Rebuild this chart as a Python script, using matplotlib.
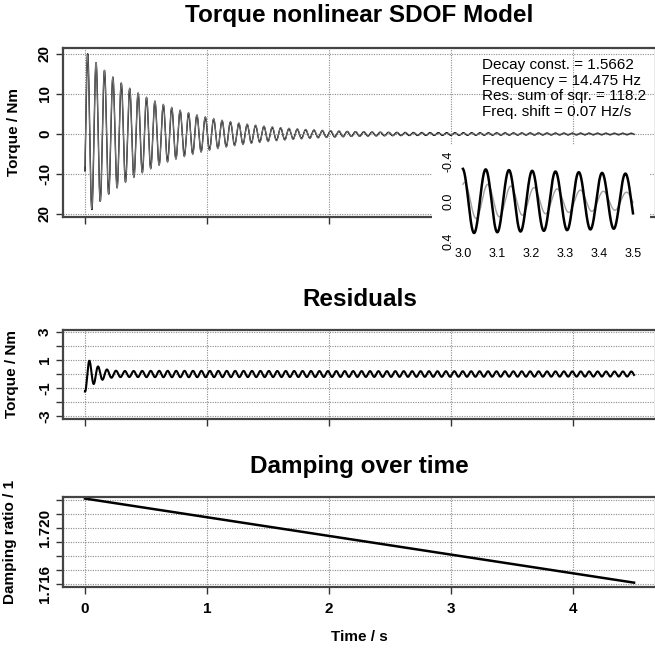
import numpy as np
import matplotlib.pyplot as plt

plt.rcParams['font.family'] = ['Liberation Sans', 'DejaVu Sans']

# model parameters as printed on the chart
decay_const = 1.5662      # 1/s
freq_hz = 14.475          # Hz
freq_shift = 0.07         # Hz/s
res_sum_sqr = 118.2
amp0 = 20.5               # first peak, Nm
phase0 = -0.4             # start value ~ -8 Nm

# residual: start transient and slowly fading ripple
res_start = 1.35
res_tau = 0.13
res_ripple0 = 0.24
res_ripple_end = 0.18
res_phase = 2.72

# damping ratio, start and end of the straight line
damp_t = [0.0, 4.5]
damp_val = [1.7221, 1.7161]

t_end = 4.5
fs = 2000

t = np.arange(0, t_end, 1.0 / fs)
model = amp0 * np.exp(-decay_const * t) * np.sin(
    2 * np.pi * (freq_hz * t + 0.5 * freq_shift * t ** 2) + phase0)
ripple = res_ripple0 * (res_ripple_end / res_ripple0) ** (t / t_end)
resid = ripple * np.sin(2 * np.pi * freq_hz * t + res_phase) \
    - res_start * np.exp(-t / res_tau) * np.cos(2 * np.pi * freq_hz * t)
measured = model + resid

W, H = 655, 648
fig = plt.figure(figsize=(W / 100, H / 100), dpi=100)


def rect(x0, x1, y0, y1):
    return [x0 / W, 1 - y1 / H, (x1 - x0) / W, (y1 - y0) / H]


grid_kw = dict(color='#8c8c8c', linestyle=(0, (1, 1.2)), linewidth=0.8)
xt = [0, 1, 2, 3, 4]
xlim = (-0.18, 4.68)


def style(ax, yticks, ylabels):
    ax.set_xlim(*xlim)
    ax.set_xticks(xt)
    ax.set_yticks(yticks)
    ax.set_yticklabels(ylabels, rotation=90, va='center', fontsize=11,
                       fontweight='bold')
    ax.tick_params(direction='out', length=5, width=1, color='#333333', pad=3)
    for s in ax.spines.values():
        s.set_color('#444444')
        s.set_linewidth(1.6)
    ax.grid(True, **grid_kw)
    ax.set_axisbelow(True)


# top panel
ax1 = fig.add_axes(rect(63, 656, 48, 217))
ax1.plot(t, measured, color='black', lw=1.0)
ax1.plot(t, model, color='#777777', lw=0.7)
ax1.set_ylim(-20.75, 21.5)
style(ax1, [-20, -10, 0, 10, 20], ['20', '-10', '0', '10', '20'])
ax1.set_xticklabels([])
ax1.set_ylabel('Torque / Nm', fontsize=11, fontweight='bold')
ax1.yaxis.set_label_coords(-0.07, 0.5)
ax1.text(0.5, 1 + 33 / 169, 'Torque nonlinear SDOF Model', transform=ax1.transAxes,
         ha='center', va='center', fontsize=17.5, fontweight='bold')
ax1.text(0.7066, 0.94,
         f'Decay const. = {decay_const}\nFrequency = {freq_hz} Hz\n'
         f'Res. sum of sqr. = {res_sum_sqr}\nFreq. shift = {freq_shift} Hz/s',
         transform=ax1.transAxes, ha='left', va='top', fontsize=11,
         linespacing=1.15)

# inset, zoom on 3.0 - 3.5 s
axi = fig.add_axes(rect(432, 650, 145, 247))
sel = (t >= 3.0) & (t <= 3.5)
axi.plot(t[sel], model[sel], color='#a0a0a0', lw=1.0)
axi.plot(t[sel], measured[sel], color='black', lw=1.8)
axi.set_xlim(2.909, 3.55)
axi.set_ylim(0.46, -0.56)
axi.set_xticks([3.0, 3.1, 3.2, 3.3, 3.4, 3.5])
axi.set_xticklabels(['3.0', '3.1', '3.2', '3.3', '3.4', '3.5'], fontsize=9)
axi.set_yticks([-0.4, 0.0, 0.4])
axi.set_yticklabels(['-0.4', '0.0', '0.4'], rotation=90, va='center', fontsize=9)
axi.tick_params(axis='x', length=0, pad=1)
axi.tick_params(axis='y', length=0, pad=-16)
for s in axi.spines.values():
    s.set_visible(False)
axi.set_facecolor('white')

# residuals
ax2 = fig.add_axes(rect(63, 656, 330, 419))
ax2.plot(t, resid, color='black', lw=1.5)
ax2.set_ylim(-3.21, 3.14)
style(ax2, [-3, -2, -1, 0, 1, 2, 3], ['-3', '', '-1', '', '1', '', '3'])
ax2.set_xticklabels([])
ax2.set_ylabel('Torque / Nm', fontsize=11, fontweight='bold')
ax2.yaxis.set_label_coords(-0.075, 0.5)
ax2.text(0.5, 1 + 30 / 89, 'Residuals', transform=ax2.transAxes,
         ha='center', va='center', fontsize=17.5, fontweight='bold')

# damping
ax3 = fig.add_axes(rect(63, 656, 497, 587))
ax3.plot(damp_t, damp_val, color='black', lw=1.8)
ax3.set_ylim(1.71579, 1.72221)
dticks = [1.716, 1.717, 1.718, 1.719, 1.720, 1.721, 1.722]
style(ax3, dticks, ['1.716', '', '', '', '1.720', '', ''])
ax3.set_xticklabels([str(v) for v in xt], fontsize=11, fontweight='bold')
ax3.tick_params(axis='x', pad=6)
ax3.set_ylabel('Damping ratio / 1', fontsize=11, fontweight='bold')
ax3.yaxis.set_label_coords(-0.078, 0.5)
ax3.set_xlabel('Time / s', fontsize=11, fontweight='bold')
ax3.xaxis.set_label_coords(0.5, -0.48)
ax3.text(0.5, 1 + 30 / 90, 'Damping over time', transform=ax3.transAxes,
         ha='center', va='center', fontsize=17.5, fontweight='bold')

fig.savefig('out.png', dpi=100)
